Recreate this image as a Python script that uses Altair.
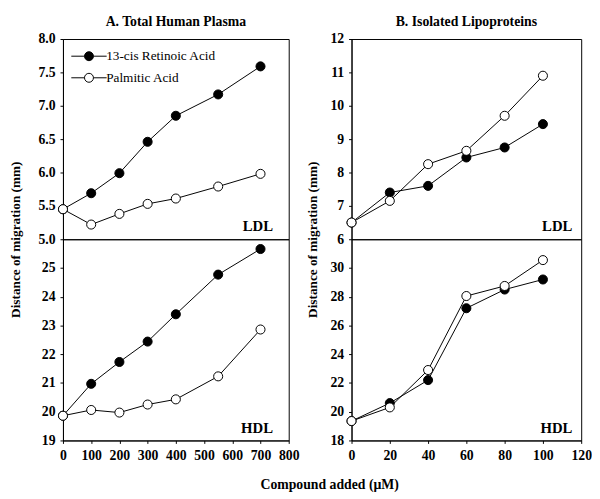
import altair as alt
import pandas as pd

FONT = "Liberation Serif"
LEGEND_FONT = "Liberation Serif, Times New Roman, serif"

series = ["13-cis Retinoic Acid", "Palmitic Acid"]

# Panel A: total human plasma
a_x = [0, 100, 200, 300, 400, 550, 700]
a_ldl_ret = [5.45, 5.69, 5.99, 6.46, 6.85, 7.17, 7.59]
a_ldl_pal = [5.45, 5.22, 5.38, 5.53, 5.61, 5.79, 5.98]
a_hdl_ret = [19.86, 20.97, 21.73, 22.44, 23.39, 24.77, 25.66]
a_hdl_pal = [19.86, 20.06, 19.97, 20.25, 20.43, 21.23, 22.86]

# Panel B: isolated lipoproteins
b_x = [0, 20, 40, 60, 80, 100]
b_ldl_ret = [6.5, 7.4, 7.6, 8.45, 8.75, 9.45]
b_ldl_pal = [6.5, 7.15, 8.25, 8.65, 9.7, 10.9]
b_hdl_ret = [19.35, 20.6, 22.2, 27.2, 28.5, 29.2]
b_hdl_pal = [19.35, 20.3, 22.9, 28.05, 28.75, 30.55]

a_xticks = [0, 100, 200, 300, 400, 500, 600, 700, 800]
b_xticks = [0, 20, 40, 60, 80, 100, 120]
a_ldl_yticks = [5.0, 5.5, 6.0, 6.5, 7.0, 7.5, 8.0]
a_hdl_yticks = [19, 20, 21, 22, 23, 24, 25]
b_ldl_yticks = [6, 7, 8, 9, 10, 11, 12]
b_hdl_yticks = [18, 20, 22, 24, 26, 28, 30]

LEGEND_PATH = ("M-1.5,0L-0.38,0M0.38,0L1.5,0"
               "M-0.38,0A0.38,0.38,0,1,1,0.38,0A0.38,0.38,0,1,1,-0.38,0Z")

AXIS_STYLE = dict(labelFont=FONT, labelFontSize=14, labelFontWeight="bold",
                  labelColor="black", labelPadding=5, tickSize=3,
                  tickColor="black", domainColor="black", grid=False,
                  labelOverlap=False, labelFlush=False)


def make_df(x, ret, pal):
    return pd.DataFrame({
        "x": list(x) + list(x),
        "y": list(ret) + list(pal),
        "series": [series[0]] * len(x) + [series[1]] * len(x),
    })


def panel(df, xdom, xvals, ydom, yvals, yfmt, w, h, tag, tag_dx,
          show_x=False, title=None, legend=False, ytitle_x=None):
    if show_x:
        xaxis = alt.Axis(values=xvals, format="d", title=None, **AXIS_STYLE)
    else:
        xaxis = None
    if ytitle_x is not None:
        yaxis = alt.Axis(values=yvals, format=yfmt,
                         title="Distance of migration (mm)",
                         titleX=ytitle_x, titleY=h, titleFont=FONT,
                         titleFontSize=13.5, titleFontWeight="bold",
                         titleColor="black", **AXIS_STYLE)
    else:
        yaxis = alt.Axis(values=yvals, format=yfmt, title=None, **AXIS_STYLE)

    x = alt.X("x:Q", scale=alt.Scale(domain=xdom, nice=False, zero=False), axis=xaxis)
    y = alt.Y("y:Q", scale=alt.Scale(domain=ydom, nice=False, zero=False), axis=yaxis)

    if legend:
        leg = alt.Legend(title=None, orient="none", legendX=14, legendY=5,
                         symbolType=LEGEND_PATH, symbolSize=576,
                         symbolStrokeColor="black", symbolStrokeWidth=1,
                         symbolOpacity=1, labelFont=LEGEND_FONT, labelFontSize=13.5,
                         labelColor="black", labelOffset=5, rowPadding=2)
    else:
        leg = None

    base = alt.Chart(df)
    line = base.mark_line(color="black", strokeWidth=1).encode(
        x=x, y=y, detail="series:N")
    pts = base.mark_circle(size=85, stroke="black", strokeWidth=1, opacity=1).encode(
        x=x, y=y,
        fill=alt.Fill("series:N", scale=alt.Scale(domain=series, range=["black", "white"]),
                      legend=leg))
    tag_layer = alt.Chart(pd.DataFrame({"t": [tag]})).mark_text(
        align="right", baseline="bottom", font=FONT, fontSize=15,
        fontWeight="bold", color="black").encode(
        x=alt.value(w - tag_dx), y=alt.value(h - 5), text="t:N")

    ch = alt.layer(line, pts, tag_layer).properties(width=w, height=h)
    if title:
        ch = ch.properties(title=alt.TitleParams(
            title, font=FONT, fontSize=14, fontWeight="bold", color="black",
            anchor="middle", offset=3))
    return ch


WA, WB, HL, HH = 230, 234, 204, 205

a_ldl = panel(make_df(a_x, a_ldl_ret, a_ldl_pal), [0, 800], a_xticks, [5.0, 8.0],
              a_ldl_yticks, ".1f", WA, HL, "LDL", 16,
              title="A. Total Human Plasma", legend=True, ytitle_x=-41)
a_hdl = panel(make_df(a_x, a_hdl_ret, a_hdl_pal), [0, 800], a_xticks, [19, 26],
              a_hdl_yticks, "d", WA, HH, "HDL", 16, show_x=True)
b_ldl = panel(make_df(b_x, b_ldl_ret, b_ldl_pal), [0, 120], b_xticks, [6, 12],
              b_ldl_yticks, "d", WB, HL, "LDL", 9,
              title="B. Isolated Lipoproteins", ytitle_x=-33)
b_hdl = panel(make_df(b_x, b_hdl_ret, b_hdl_pal), [0, 120], b_xticks, [18, 32],
              b_hdl_yticks, "d", WB, HH, "HDL", 9, show_x=True)

col_a = alt.vconcat(a_ldl, a_hdl, spacing=0, bounds="flush").resolve_scale(
    fill="independent").resolve_legend(fill="independent")
col_b = alt.vconcat(b_ldl, b_hdl, spacing=0, bounds="flush").resolve_scale(
    fill="independent").resolve_legend(fill="independent")

chart = alt.hconcat(col_a, col_b, spacing=5).resolve_scale(
    fill="independent").resolve_legend(fill="independent").properties(
    title=alt.TitleParams("Compound added (\u00b5M)", orient="bottom", anchor="middle",
                          font=FONT, fontSize=14, fontWeight="bold", color="black",
                          dx=30, offset=16),
    padding={"left": 0, "top": 2, "right": 0, "bottom": 0},
    background="white",
).configure_view(stroke="black", strokeWidth=1).configure_axis(
    **AXIS_STYLE
).configure_legend(labelFont=LEGEND_FONT, labelFontSize=13.5, labelColor="black")

chart.save("out.html", embed_options={"renderer": "svg", "actions": False})
